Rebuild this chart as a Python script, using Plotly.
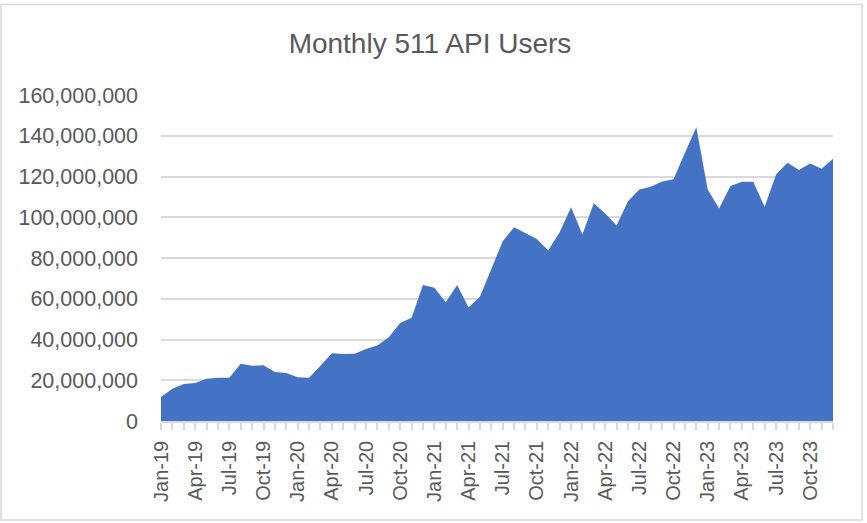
import plotly.graph_objects as go

months = ["Jan", "Feb", "Mar", "Apr", "May", "Jun", "Jul", "Aug", "Sep", "Oct", "Nov", "Dec"]
years = ["19", "20", "21", "22", "23"]
month_labels = [f"{m}-{y}" for y in years for m in months]

# Monthly API users
users = [
    11.8e6, 15.8e6, 18.1e6, 18.7e6, 20.7e6, 21.2e6, 21.2e6, 28.1e6, 27.1e6, 27.4e6, 24.0e6, 23.5e6,
    21.5e6, 21.2e6, 27.1e6, 33.2e6, 32.9e6, 33.0e6, 35.3e6, 37.1e6, 41.1e6, 48.1e6, 50.7e6, 66.7e6,
    65.4e6, 58.3e6, 66.7e6, 55.7e6, 61.0e6, 74.2e6, 88.2e6, 95.1e6, 92.3e6, 89.3e6, 83.7e6, 92.6e6,
    104.9e6, 91.5e6, 106.9e6, 101.8e6, 95.9e6, 107.9e6, 113.6e6, 115.0e6, 117.6e6, 118.7e6, 131.7e6, 144.2e6,
    113.6e6, 104.3e6, 115.3e6, 117.4e6, 117.4e6, 105.1e6, 121.0e6, 126.8e6, 123.2e6, 126.4e6, 123.8e6, 128.7e6,
]

y_ticks = [0, 20e6, 40e6, 60e6, 80e6, 100e6, 120e6, 140e6, 160e6]

x_idx = list(range(len(month_labels)))
tick_text = [lab if i % 3 == 0 else "" for i, lab in enumerate(month_labels)]

W, H = 867, 523
L, R, T, B = 161, 833, 95, 421

fig = go.Figure()
fig.add_trace(go.Scatter(
    x=x_idx, y=users, mode="lines", fill="tozeroy",
    line=dict(width=0, color="#4472C4"), fillcolor="#4472C4",
    hoverinfo="skip", showlegend=False,
))

font_family = "Liberation Sans, Arial, sans-serif"
text_color = "#595959"
grid_color = "#d9d9d9"

pw, ph = R - L, B - T
fig.update_layout(
    width=W, height=H,
    margin=dict(l=L, r=W - R, t=T, b=H - B, pad=0),
    paper_bgcolor="white", plot_bgcolor="white",
    title=dict(text="Monthly 511 API Users", x=430 / W, xanchor="center",
               y=1 - 43 / H, yanchor="middle", yref="container",
               font=dict(family=font_family, size=28, color=text_color)),
    xaxis=dict(
        range=[0, len(month_labels) - 1],
        tickmode="array", tickvals=x_idx, ticktext=tick_text,
        tickangle=-90, ticks="outside", ticklen=7, tickcolor=grid_color, tickwidth=1.5,
        showgrid=False, zeroline=False, showline=True, linecolor=grid_color, linewidth=1.5,
        tickfont=dict(family=font_family, size=20, color=text_color),
        ticklabelstandoff=3, fixedrange=True,
    ),
    yaxis=dict(
        range=[0, 160e6], tickmode="array", tickvals=y_ticks,
        tickformat=",d", showgrid=True, gridcolor=grid_color, gridwidth=1.5,
        zeroline=False, showline=False, ticks="",
        tickfont=dict(family=font_family, size=21.5, color=text_color),
        ticklabelstandoff=22, fixedrange=True,
    ),
    shapes=[dict(
        type="rect", xref="paper", yref="paper",
        x0=(1 - L) / pw, x1=(862 - L) / pw, y0=(B - 520) / ph, y1=(B - 4.5) / ph,
        line=dict(color=grid_color, width=1.5), fillcolor="rgba(0,0,0,0)", layer="below",
    )],
)

fig.write_html(
    "out.html",
    config={"displayModeBar": False},
    post_script="document.body.style.margin='0';document.body.style.padding='0';document.body.style.overflow='hidden';",
)
